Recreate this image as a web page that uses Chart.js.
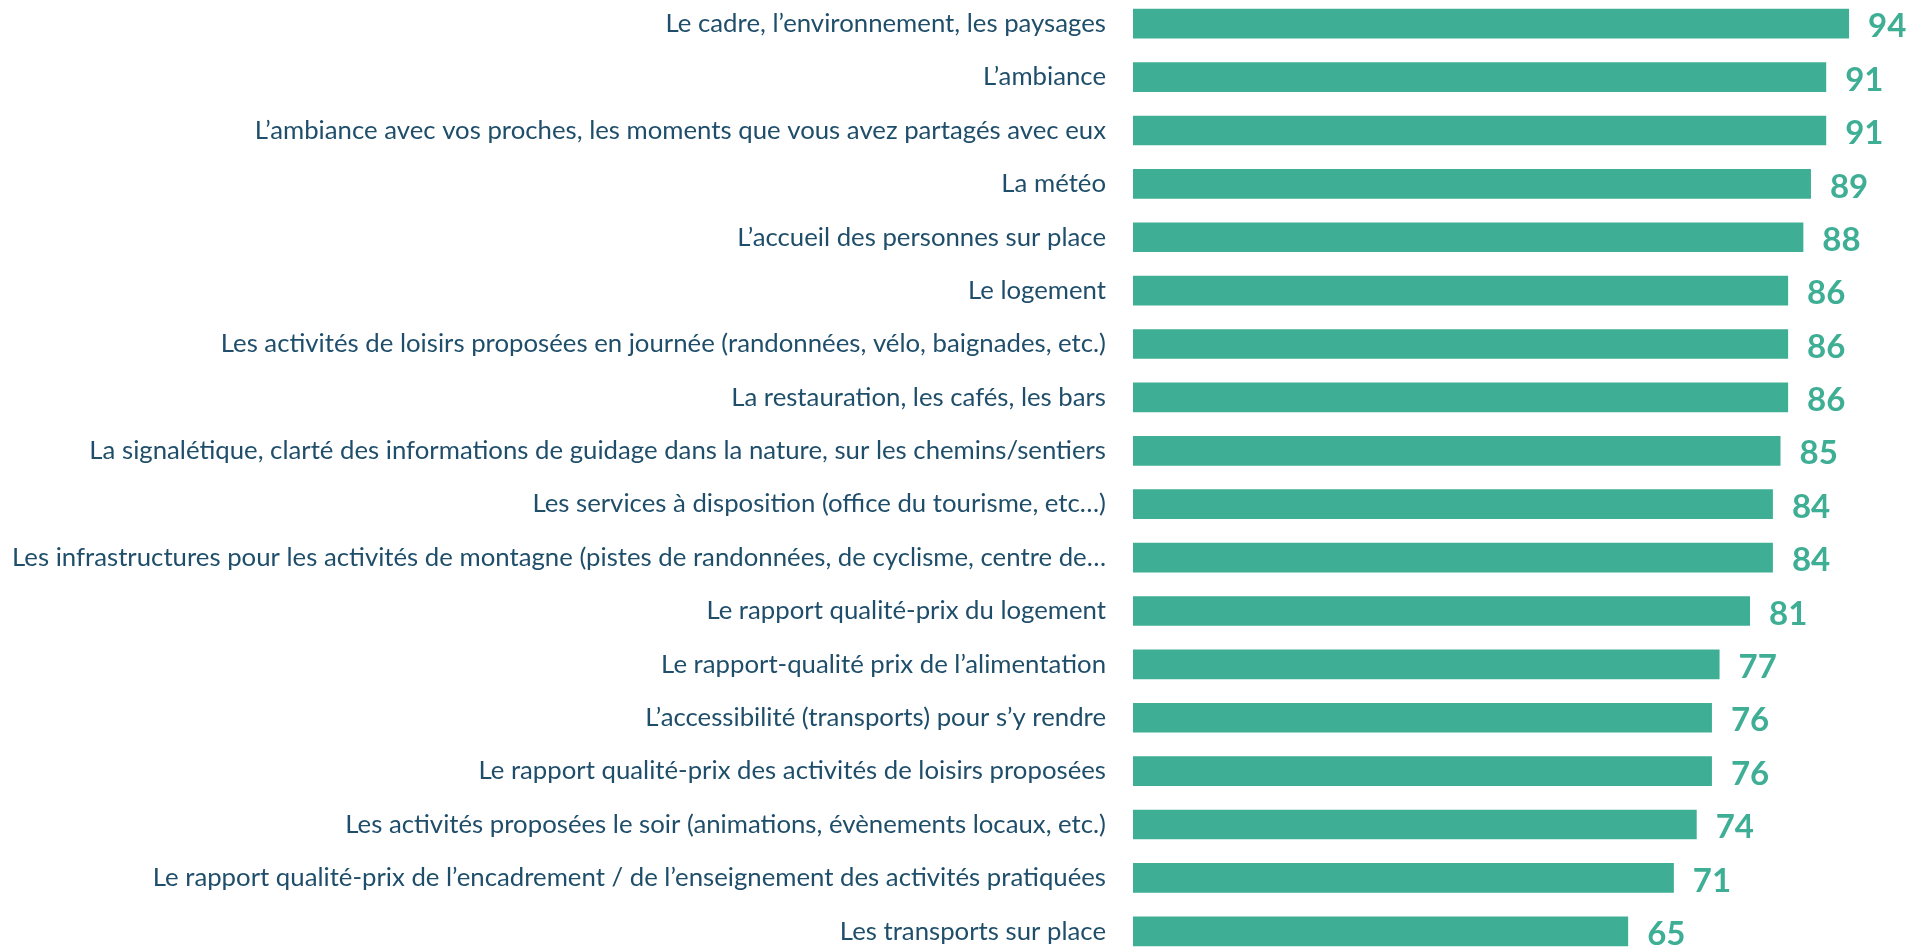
<!DOCTYPE html>
<html>
<head>
<meta charset="utf-8">
<script src="https://cdn.jsdelivr.net/npm/chart.js@4.4.1/dist/chart.umd.min.js"></script>
<style>
html, body { margin: 0; padding: 0; background: #ffffff; overflow: hidden; width: 1910px; height: 947px; }
#c { position: absolute; left: 0; top: -3px; }
</style>
</head>
<body>
<canvas id="c" width="1910" height="961"></canvas>
<script>
const categories = [
  "Le cadre, l’environnement, les paysages",
  "L’ambiance",
  "L’ambiance avec vos proches, les moments que vous avez partagés avec eux",
  "La météo",
  "L’accueil des personnes sur place",
  "Le logement",
  "Les activités de loisirs proposées en journée (randonnées, vélo, baignades, etc.)",
  "La restauration, les cafés, les bars",
  "La signalétique, clarté des informations de guidage dans la nature, sur les chemins/sentiers",
  "Les services à disposition (office du tourisme, etc…)",
  "Les infrastructures pour les activités de montagne (pistes de randonnées, de cyclisme, centre de…",
  "Le rapport qualité-prix du logement",
  "Le rapport-qualité prix de l’alimentation",
  "L’accessibilité (transports) pour s’y rendre",
  "Le rapport qualité-prix des activités de loisirs proposées",
  "Les activités proposées le soir (animations, évènements locaux, etc.)",
  "Le rapport qualité-prix de l’encadrement / de l’enseignement des activités pratiquées",
  "Les transports sur place"
];
const values = [94, 91, 91, 89, 88, 86, 86, 86, 85, 84, 84, 81, 77, 76, 76, 74, 71, 65];

const BAR_COLOR = "#3EAE94";
const TEXT_COLOR = "#1F4E6B";

const valueLabels = {
  id: "valueLabels",
  afterDatasetsDraw(chart) {
    const ctx = chart.ctx;
    const meta = chart.getDatasetMeta(0);
    ctx.save();
    ctx.font = "bold 33px Lato, 'Open Sans', sans-serif";
    ctx.fillStyle = BAR_COLOR;
    ctx.textAlign = "left";
    ctx.textBaseline = "middle";
    meta.data.forEach((bar, i) => {
      ctx.fillText(String(values[i]), bar.x + 19, bar.y + 3);
    });
    ctx.restore();
  }
};

new Chart(document.getElementById("c"), {
  type: "bar",
  data: {
    labels: categories,
    datasets: [{
      data: values,
      backgroundColor: BAR_COLOR,
      borderWidth: 0,
      barPercentage: 0.556,
      categoryPercentage: 1.0
    }]
  },
  options: {
    indexAxis: "y",
    responsive: false,
    maintainAspectRatio: false,
    animation: false,
    devicePixelRatio: 1,
    layout: { padding: 0 },
    plugins: {
      legend: { display: false },
      tooltip: { enabled: false },
      title: { display: false }
    },
    scales: {
      x: {
        display: false,
        min: 0,
        max: 102,
        grid: { display: false }
      },
      y: {
        grid: { display: false },
        border: { display: false },
        ticks: {
          color: TEXT_COLOR,
          font: { family: "Lato, 'Open Sans', sans-serif", size: 25.75 },
          padding: 19,
          autoSkip: false
        },
        afterFit(scale) {
          scale.width = 1133;
          scale.paddingTop = 0;
          scale.paddingBottom = 0;
        }
      }
    }
  },
  plugins: [valueLabels]
});
</script>
</body>
</html>
